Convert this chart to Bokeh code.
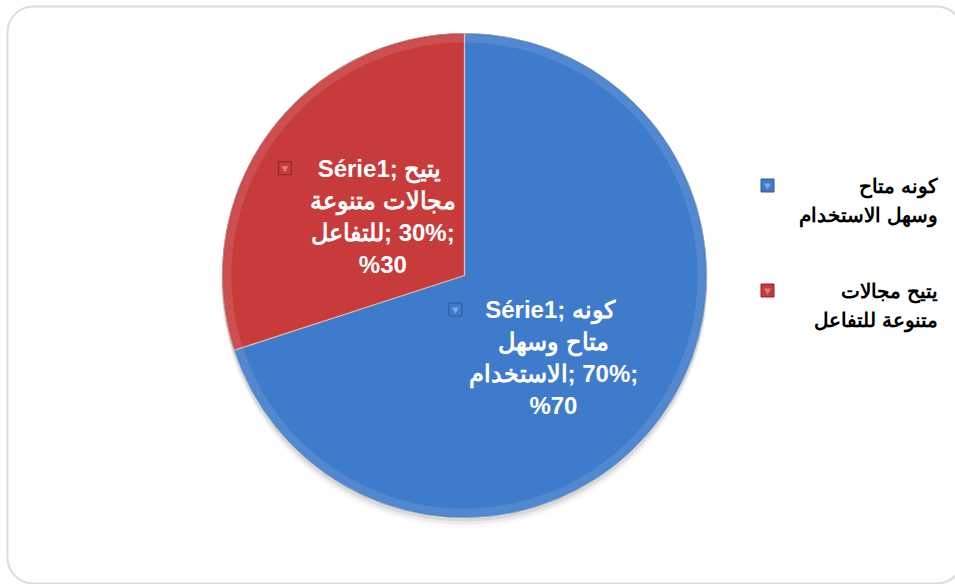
import numpy as np
from bokeh.plotting import figure
from bokeh.models import Range1d, BoxAnnotation, ColumnDataSource
from bokeh.core.properties import value
from bokeh.embed import file_html
from bokeh.resources import INLINE

# ---------------- data ----------------
series_name = "Série1"
categories = ["كونه متاح وسهل الاستخدام", "يتيح مجالات متنوعة للتفاعل"]
values = [70, 30]
# category name split into label lines (first word / middle / last word)
label_first = ["كونه", "يتيح"]
label_middle = ["متاح وسهل", "مجالات متنوعة"]
label_last = ["الاستخدام", "للتفاعل"]
legend_lines = [["كونه متاح", "وسهل الاستخدام"], ["يتيح مجالات", "متنوعة للتفاعل"]]
colors = ["#3E7BCB", "#C83B3B"]
edge_colors = ["#2C5A99", "#8E2424"]

# ---------------- layout ----------------
W, H = 955, 584
def px(xp):
    return xp
def py(yp):
    return H - yp

cx, cy = px(464), py(275)
R = 242.0

p = figure(width=W, height=H, x_range=Range1d(0, W), y_range=Range1d(0, H),
           output_backend="svg", toolbar_location=None, min_border=0)
p.axis.visible = False
p.grid.visible = False
p.outline_line_color = None
p.background_fill_color = "white"
p.border_fill_color = "white"

# pie geometry from values (start at 12 o'clock, clockwise)
vals = np.array(values, dtype=float)
frac = vals / vals.sum()
cum = np.concatenate([[0], np.cumsum(frac)])
start_cw = 90 - 360 * cum[:-1]
end_cw = 90 - 360 * cum[1:]
mid = (start_cw + end_cw) / 2

# soft shadow
for off, a in [(3, 0.18), (6, 0.10), (9, 0.05)]:
    p.circle(x=[cx], y=[cy - off], radius=R + 1, fill_color="#808080",
             fill_alpha=a, line_color=None)

src = ColumnDataSource(dict(x=[cx] * len(vals), y=[cy] * len(vals),
                            start=np.deg2rad(end_cw), end=np.deg2rad(start_cw),
                            color=colors, edge=edge_colors))
p.wedge(x="x", y="y", radius=R, start_angle="start", end_angle="end",
        fill_color="color", line_color="edge", line_width=1, source=src)
# bevel highlight ring
p.annular_wedge(x="x", y="y", inner_radius=R - 9, outer_radius=R - 1,
                start_angle="start", end_angle="end", fill_color="white",
                fill_alpha=0.10, line_color=None, source=src)
p.wedge(x="x", y="y", radius=R, start_angle="start", end_angle="end",
        fill_color=None, line_color="white", line_alpha=0.45, line_width=1.2,
        source=src)

# ---------------- data labels ----------------
label_k = [0.50, 0.417]
label_da = [-6.7, 0.0]
line_h = 32
lx, ly, lt = [], [], []
mx, my, mc, me = [], [], [], []
for i in range(len(vals)):
    ang = np.deg2rad(mid[i] + label_da[i])
    ax = cx + label_k[i] * R * np.cos(ang)
    ay = cy + label_k[i] * R * np.sin(ang)
    v = int(values[i])
    lines = [series_name + ";  " + label_first[i],
             label_middle[i],
             label_last[i] + "\u200e; " + str(v) + "%;",
             "%" + str(v)]
    for j, t in enumerate(lines):
        lx.append(ax)
        ly.append(ay + (1.5 - j) * line_h)
        lt.append(t)
    mx.append(ax - 98)
    my.append(ay + 1.5 * line_h)
    mc.append(colors[i])
    me.append(edge_colors[i])

p.text(x=lx, y=ly, text=lt, text_color="white", text_font=value("Liberation Sans"),
       text_font_style="bold", text_font_size="24px", text_align="center",
       text_baseline="middle")
p.scatter(x=mx, y=my, marker="square", size=13, fill_color=mc, line_color=me,
          line_width=1)
p.scatter(x=mx, y=my, marker="inverted_triangle", size=7, fill_color="white",
          fill_alpha=0.35, line_color=None)

# ---------------- legend ----------------
leg_tx, leg_ty, leg_t = [], [], []
leg_mx, leg_my = [], []
for i in range(len(categories)):
    base = py(185) - i * 105
    leg_mx.append(px(767))
    leg_my.append(base)
    for j, t in enumerate(legend_lines[i]):
        leg_tx.append(px(937))
        leg_ty.append(base - j * 29)
        leg_t.append(t)
p.text(x=leg_tx, y=leg_ty, text=leg_t, text_color="black",
       text_font=value("Liberation Sans"), text_font_style="bold",
       text_font_size="20px", text_align="right", text_baseline="middle")
p.scatter(x=leg_mx, y=leg_my, marker="square", size=13, fill_color=colors,
          line_color=edge_colors, line_width=1)
p.scatter(x=leg_mx, y=leg_my, marker="inverted_triangle", size=7,
          fill_color="white", fill_alpha=0.35, line_color=None)

# rounded chart border
p.add_layout(BoxAnnotation(left=px(7), right=px(962), bottom=py(583), top=py(6),
                           border_radius=26, fill_alpha=0, fill_color=None,
                           line_color="#8C8C8C", line_width=2))

open("out.html", "w").write(file_html(p, INLINE))
